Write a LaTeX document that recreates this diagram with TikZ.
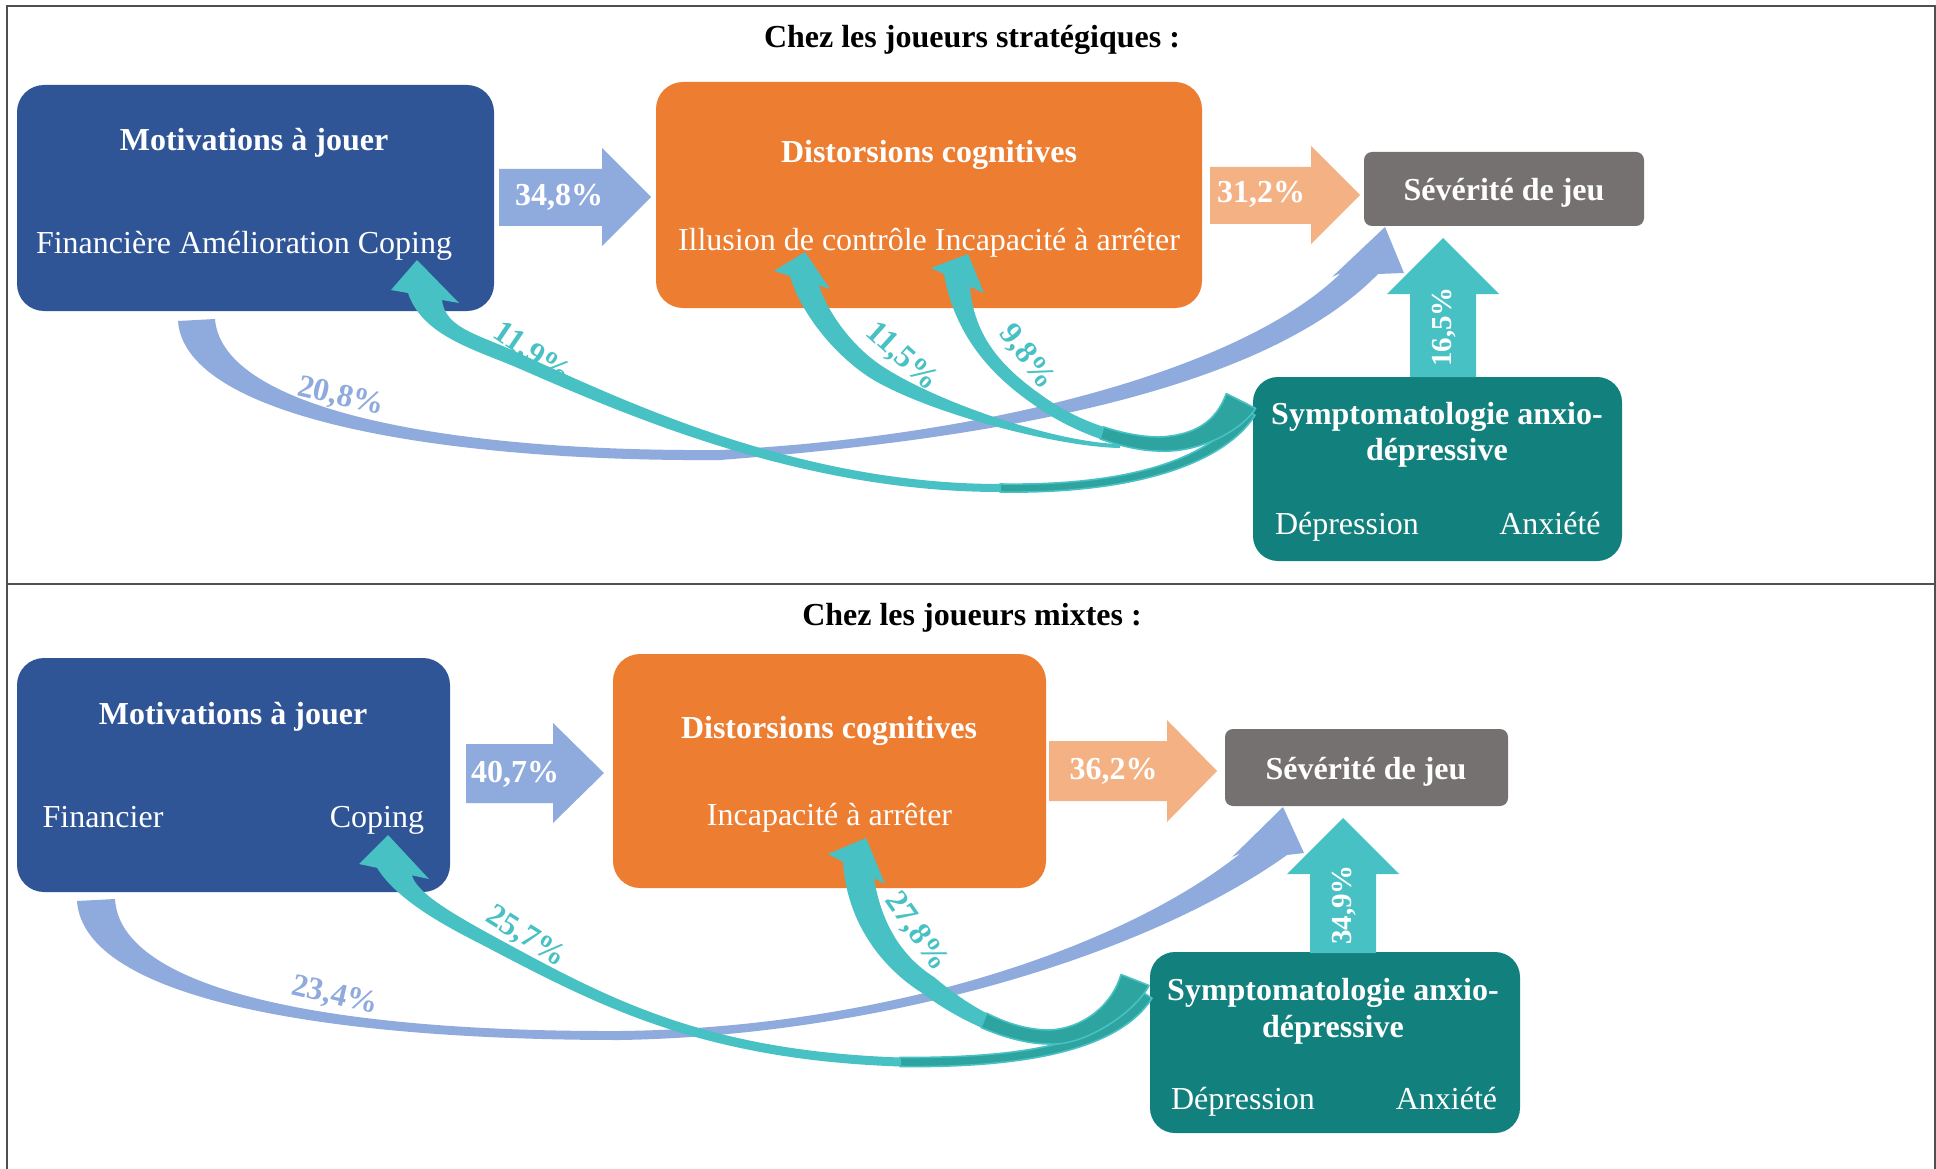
\documentclass[tikz,border=0pt]{standalone}
\usepackage{fontspec}
\setmainfont{Liberation Serif}
\definecolor{dblue}{HTML}{2F5597}
\definecolor{orng}{HTML}{ED7D31}
\definecolor{gryb}{HTML}{767171}
\definecolor{teald}{HTML}{12807C}
\definecolor{lteal}{HTML}{48C1C4}
\definecolor{dteal}{HTML}{2EA4A1}
\definecolor{ablue}{HTML}{8FAADC}
\definecolor{peach}{HTML}{F4B183}
\definecolor{framec}{HTML}{505050}
\begin{document}
\begin{tikzpicture}[x=1pt,y=-1pt,
  box/.style={rounded corners=27pt, inner sep=0pt, draw=none},
  sbox/.style={rounded corners=8pt, inner sep=0pt, draw=none},
  ttl/.style={text=white, font=\fontsize{32}{37}\selectfont\bfseries, inner sep=0pt, anchor=base},
  sub/.style={text=white, font=\fontsize{32}{37}\selectfont, inner sep=0pt, anchor=base},
  pct/.style={font=\fontsize{32}{37}\selectfont\bfseries, inner sep=0pt},
  vpct/.style={font=\fontsize{29}{34}\selectfont\bfseries, inner sep=0pt, rotate=90, text=white},
  head/.style={text=black, font=\fontsize{32}{37}\selectfont\bfseries, inner sep=0pt, anchor=base},
  fold/.style={fill=dteal, draw=lteal, line width=1.6pt, line join=round}
]
\useasboundingbox (0,0) rectangle (1936,1169);
\fill[white] (0,0) rectangle (1936,1169);
% frame
\draw[framec, line width=2pt] (7,1175) -- (7,6) -- (1935,6) -- (1935,1175);
\draw[framec, line width=2pt] (7,584) -- (1935,584);

% ================= TOP PANEL =================
\node[head] (title1) at (972,48) {Chez les joueurs stratégiques :};

\node[box, fill=dblue, minimum width=477pt, minimum height=226pt] (mot1) at (255.5,198) {};
\node[box, fill=orng, minimum width=546pt, minimum height=226pt] (dis1) at (929,195) {};
\node[sbox, fill=gryb, minimum width=280pt, minimum height=74pt] (sev1) at (1504,189) {};
\node[box, rounded corners=25pt, fill=teald, minimum width=369pt, minimum height=184pt] (sym1) at (1437.5,469) {};

\node[ttl] (mot1t) at (254,150.5) {Motivations à jouer};
\node[sub] (mot1s) at (244,254) {Financière Amélioration Coping};
\node[ttl] (dis1t) at (929,162.5) {Distorsions cognitives};
\node[sub] (dis1s) at (929,250.5) {Illusion de contrôle Incapacité à arrêter};
\node[ttl] (sev1t) at (1504,200.5) {Sévérité de jeu};
\node[ttl] (sym1a) at (1437,424) {Symptomatologie anxio-};
\node[ttl] (sym1b) at (1437,460.5) {dépressive};
\node[sub] (sym1d) at (1347,534) {Dépression};
\node[sub] (sym1x) at (1550,534) {Anxiété};

% straight arrows
\fill[ablue] (499,169) -- (602,169) -- (602,148) -- (651,197) -- (602,246) -- (602,226) -- (499,226) -- cycle;
\node[pct, text=white, anchor=base] (p348) at (559,206) {34,8\%};
\fill[peach] (1210,167) -- (1311,167) -- (1311,146) -- (1360,195) -- (1311,244) -- (1311,224) -- (1210,224) -- cycle;
\node[pct, text=white, anchor=base] (p312) at (1261,202.5) {31,2\%};
\fill[lteal] (1410,377) -- (1410,294) -- (1387,294) -- (1443,238) -- (1499,294) -- (1476,294) -- (1476,377) -- cycle;
\node[vpct] (p165) at (1444,327) {16,5\%};

% blue curved arrow
\fill[ablue] (178,321) .. controls (185,420) and (450,462) .. (720,460)
  .. controls (980,440) and (1260,395) .. (1378,274) -- (1404,273) -- (1385,227) -- (1332,277) -- (1341,273)
  .. controls (1240,372) and (980,437) .. (720,450)
  .. controls (450,452) and (222,410) .. (215,319) -- cycle;
\node[pct, text=ablue, rotate=-13] (p208) at (341,397) {20,8\%};

% teal curved arrows (top)
% to Coping
\fill[lteal] (408,293) .. controls (422.1,335) and (472.7,349) .. (514.2,366.4)
  .. controls (624.2,414.3) and (800,492) .. (1000,492) -- (1000,484)
  .. controls (800,484) and (629,403.3) .. (519.8,353.6)
  .. controls (479.3,334.4) and (445.4,329) .. (442,300) -- (459,303) -- (417,260) -- (391,290) -- cycle;
% to Illusion
\fill[lteal] (790,276) .. controls (802.2,318.4) and (842,362.3) .. (876.9,381.9)
  .. controls (938.1,415.9) and (1060,447) .. (1120,448) -- (1120,444)
  .. controls (1060,443) and (944.3,405.5) .. (885.1,368.1)
  .. controls (851.2,346.9) and (827.2,310.8) .. (819,285.5) -- (830,289) -- (805,252) -- (774,271) -- cycle;
% to Incapacite
\fill[lteal] (944,274.2) .. controls (956.6,346.1) and (1004,385.2) .. (1041.6,410)
  .. controls (1074.8,432.4) and (1125,451) .. (1160,451) -- (1160,437)
  .. controls (1125,437) and (1081.6,422.4) .. (1048.4,400)
  .. controls (1011.2,374.4) and (974.4,343.7) .. (970,286.7) -- (984,293) -- (968,254) -- (931,268) -- cycle;
% folds
\filldraw[fold] (1000,492) .. controls (1130,494) and (1222.3,465.6) .. (1255,415.3) -- (1245,408.7)
  .. controls (1212.3,459) and (1130,486) .. (1000,484) -- cycle;
\filldraw[fold] (1100.1,438.9) .. controls (1121.2,446.35) and (1142.5,451) .. (1160,451)
  .. controls (1195,453) and (1239.1,433.6) .. (1255.7,408.4) -- (1226.3,393.6)
  .. controls (1215.9,421.9) and (1195,435) .. (1160,437)
  .. controls (1142.5,437) and (1122.9,433.35) .. (1103.5,426.9) -- cycle;
\node[pct, text=lteal, rotate=-34] (p119) at (532,354) {11,9\%};
\node[pct, text=lteal, rotate=-42] (p115) at (902,357) {11,5\%};
\node[pct, text=lteal, rotate=-53] (p98) at (1027,357) {9,8\%};

% ================= BOTTOM PANEL =================
\node[head] (title2) at (972,625) {Chez les joueurs mixtes :};

\node[box, fill=dblue, minimum width=433pt, minimum height=234pt] (mot2) at (233.5,775) {};
\node[box, fill=orng, minimum width=433pt, minimum height=234pt] (dis2) at (829.5,771) {};
\node[sbox, fill=gryb, minimum width=283pt, minimum height=77pt] (sev2) at (1366.5,767.5) {};
\node[box, rounded corners=25pt, fill=teald, minimum width=370pt, minimum height=181pt] (sym2) at (1335,1042.5) {};

\node[ttl] (mot2t) at (233,724.5) {Motivations à jouer};
\node[sub] (mot2f) at (103,827) {Financier};
\node[sub] (mot2c) at (377,827) {Coping};
\node[ttl] (dis2t) at (829,738.5) {Distorsions cognitives};
\node[sub] (dis2s) at (829.5,825.5) {Incapacité à arrêter};
\node[ttl] (sev2t) at (1366,779) {Sévérité de jeu};
\node[ttl] (sym2a) at (1333,1000) {Symptomatologie anxio-};
\node[ttl] (sym2b) at (1333,1037) {dépressive};
\node[sub] (sym2d) at (1243,1109) {Dépression};
\node[sub] (sym2x) at (1446.5,1109) {Anxiété};

\fill[ablue] (466,744) -- (553,744) -- (553,723) -- (604,773) -- (553,823) -- (553,803) -- (466,803) -- cycle;
\node[pct, text=white, anchor=base] (p407) at (515,782) {40,7\%};
\fill[peach] (1049,741) -- (1167,741) -- (1167,720) -- (1217,771) -- (1167,822) -- (1167,801) -- (1049,801) -- cycle;
\node[pct, text=white, anchor=base] (p362) at (1113.5,779) {36,2\%};
\fill[lteal] (1310,953) -- (1310,874) -- (1287,874) -- (1343,818) -- (1399,874) -- (1376,874) -- (1376,953) -- cycle;
\node[vpct] (p349) at (1344,905) {34,9\%};

\fill[ablue] (77,901) .. controls (84,1000) and (330,1040) .. (620,1040)
  .. controls (870,1036) and (1140,960) .. (1287,855) -- (1304,853) -- (1283,807) -- (1232,857) -- (1241,853)
  .. controls (1120,950) and (880,1028) .. (620,1031)
  .. controls (330,1032) and (120,990) .. (115,899) -- cycle;
\node[pct, text=ablue, rotate=-13] (p234) at (335,996) {23,4\%};

% to Coping
\fill[lteal] (377,867.8) .. controls (398.6,902.7) and (452.9,929.8) .. (483.9,945.7)
  .. controls (598.8,1005.9) and (700,1059.5) .. (900,1066.5) -- (900,1057.5)
  .. controls (700,1050.5) and (604,996.3) .. (490.1,934.3)
  .. controls (459.5,917.4) and (416.4,893.7) .. (412,875.3) -- (429,879) -- (388,835) -- (359,864) -- cycle;
% to Incapacite
\fill[lteal] (843,861.9) .. controls (847.6,932.3) and (892,974.2) .. (921.8,992.8)
  .. controls (953.6,1016.8) and (1005,1044) .. (1050,1044) -- (1050,1030)
  .. controls (1005,1030) and (964.8,1002.8) .. (934.2,977.2)
  .. controls (904,958) and (882,927) .. (874,878.2) -- (885,884) -- (866,838) -- (828,854) -- cycle;
% folds
\filldraw[fold] (900,1066.5) .. controls (1030,1068) and (1119.6,1048.6) .. (1152,998.2) -- (1142,991.8)
  .. controls (1109.6,1042.2) and (1030,1058) .. (900,1057.5) -- cycle;
\filldraw[fold] (980.95,1027.4) .. controls (1003.4,1037.2) and (1027.5,1044) .. (1050,1044)
  .. controls (1085,1046) and (1135.1,1012.3) .. (1149,985.5) -- (1121,974.5)
  .. controls (1112.7,1003.5) and (1085,1028) .. (1050,1030)
  .. controls (1027.5,1030) and (1006.2,1023.2) .. (986.7,1013.2) -- cycle;
\node[pct, text=lteal, rotate=-32] (p257) at (526,937) {25,7\%};
\node[pct, text=lteal, rotate=-55] (p278) at (916,932) {27,8\%};
\end{tikzpicture}
\end{document}
